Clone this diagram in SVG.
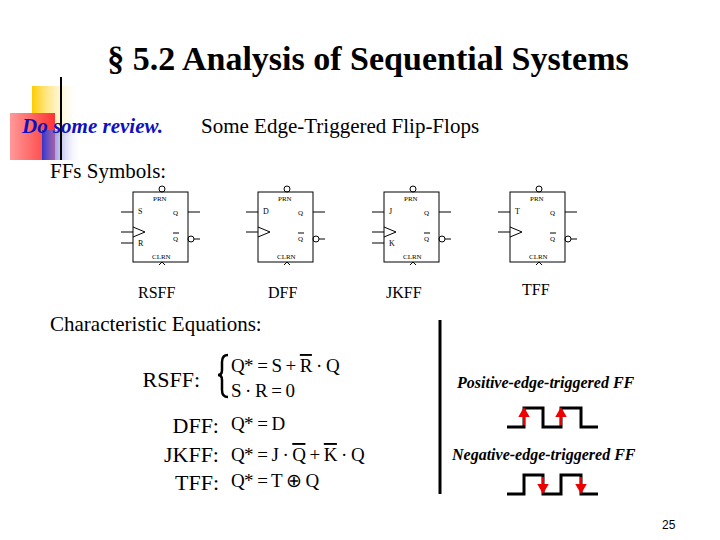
<svg xmlns="http://www.w3.org/2000/svg" width="720" height="540" viewBox="0 0 720 540">
<defs>
<linearGradient id="gy" x1="0" x2="1"><stop offset="0" stop-color="#ffcc00"/><stop offset="1" stop-color="#fff" stop-opacity="0"/></linearGradient>
<linearGradient id="gr" x1="0" x2="1"><stop offset="0" stop-color="#ff9999"/><stop offset="1" stop-color="#ff3333"/></linearGradient>
<linearGradient id="gb" x1="0" x2="1"><stop offset="0" stop-color="#3333cc"/><stop offset="1" stop-color="#fff" stop-opacity="0"/></linearGradient>
<linearGradient id="gl" x1="0" x2="1"><stop offset="0" stop-color="#333"/><stop offset="1" stop-color="#ccc"/></linearGradient>
<g id="ff" fill="none" stroke="#000" stroke-width="1">
<rect x="0" y="7" width="55" height="70" fill="#fff"/>
<circle cx="29" cy="4" r="3"/>
<path d="M0 42 L12 47 L0 52"/>
<line x1="-12" y1="47" x2="0" y2="47"/>
<line x1="55" y1="27" x2="67" y2="27"/>
<circle cx="58" cy="54" r="3"/>
<line x1="61" y1="54" x2="67" y2="54"/>
<line x1="40" y1="48" x2="46" y2="48"/>
<path d="M26 80 L29 77 L32 80"/>
<g stroke="none" fill="#000" font-family="Liberation Serif, serif" font-size="7"><text x="20" y="16">PRN</text><text x="19" y="74">CLRN</text><text x="40" y="30">Q</text><text x="40" y="56">Q</text></g>
</g>
</defs>
<style>.t{font-family:"Liberation Serif",serif;fill:#000}.s{font-size:8px;font-family:"Liberation Serif",serif}.o{text-decoration:overline}</style>
<rect width="720" height="540" fill="#fff"/>
<g id="deco">
<rect x="32" y="86" width="48" height="50" fill="url(#gy)"/>
<rect x="10" y="113" width="45" height="47" fill="url(#gr)"/>
<rect x="42" y="130" width="40" height="30" fill="url(#gb)"/>
<line x1="61" y1="77" x2="61" y2="160" stroke="#000" stroke-width="2"/>
<line x1="34" y1="141" x2="500" y2="141" stroke="url(#gl)" stroke-width="2"/>
</g>
<text class="t" x="368" y="70" font-size="34" font-weight="bold" text-anchor="middle">§ 5.2  Analysis of Sequential Systems</text>
<text class="t" x="22" y="133" font-size="21" font-style="italic" font-weight="bold" style="fill:#1010c0">Do some review.</text>
<text class="t" x="201" y="133" font-size="21">Some Edge-Triggered Flip-Flops</text>
<text class="t" x="50" y="178" font-size="21">FFs Symbols:</text>
<g id="rsff"><use href="#ff" x="133" y="185"/><line x1="121" y1="212" x2="133" y2="212" stroke="#000"/><line x1="121" y1="243" x2="133" y2="243" stroke="#000"/><text class="s" x="138" y="214">S</text><text class="s" x="138" y="246">R</text></g>
<g id="dff"><use href="#ff" x="258" y="185"/><line x1="246" y1="212" x2="258" y2="212" stroke="#000"/><text class="s" x="263" y="214">D</text></g>
<g id="jkff"><use href="#ff" x="384" y="185"/><line x1="372" y1="212" x2="384" y2="212" stroke="#000"/><line x1="372" y1="243" x2="384" y2="243" stroke="#000"/><text class="s" x="389" y="214">J</text><text class="s" x="389" y="246">K</text></g>
<g id="tff"><use href="#ff" x="510" y="185"/><line x1="498" y1="212" x2="510" y2="212" stroke="#000"/><text class="s" x="515" y="214">T</text></g>
<g class="t" font-size="16"><text x="138" y="298">RSFF</text><text x="268" y="298">DFF</text><text x="386" y="298">JKFF</text><text x="522" y="295">TFF</text></g>
<text class="t" x="50" y="331" font-size="21">Characteristic Equations:</text>
<g class="t" font-size="22" text-anchor="end"><text x="200" y="387">RSFF:</text><text x="219" y="433">DFF:</text><text x="219" y="462">JKFF:</text><text x="219" y="490">TFF:</text></g>
<path d="M228 355 Q222 355 222 362 L222 370 Q222 375 218 375 Q222 375 222 380 L222 390 Q222 397 228 397" fill="none" stroke="#000" stroke-width="2.5"/>
<g class="t" font-size="19" letter-spacing="-0.6">
<text x="231" y="372">Q* = S + <tspan class="o">R</tspan> · Q</text>
<text x="231" y="397">S · R = 0</text>
<text x="231" y="430">Q* = D</text>
<text x="231" y="461">Q* = J · <tspan class="o">Q</tspan> + <tspan class="o">K</tspan> · Q</text>
<text x="231" y="487">Q* = T ⊕ Q</text>
</g>
<line x1="440" y1="320" x2="440" y2="494" stroke="#000" stroke-width="3"/>
<g class="t" font-size="16" font-style="italic" font-weight="bold"><text x="457" y="388">Positive-edge-triggered FF</text><text x="452" y="460">Negative-edge-triggered FF</text></g>
<g id="wave" fill="none" stroke="#000" stroke-width="3">
<path d="M507 427 H524 V408 H543 V427 H561 V408 H581 V427 H598"/>
<path d="M507 494 H524 V475 H543 V494 H561 V475 H581 V494 H598"/>
</g>
<g stroke="#e00" stroke-width="2" fill="#e00">
<line x1="524" y1="425" x2="524" y2="414"/><path d="M520 416 L524 409 L528 416Z"/>
<line x1="561" y1="425" x2="561" y2="414"/><path d="M557 416 L561 409 L565 416Z"/>
<line x1="543" y1="477" x2="543" y2="487"/><path d="M539 485 L543 492 L547 485Z"/>
<line x1="581" y1="477" x2="581" y2="487"/><path d="M577 485 L581 492 L585 485Z"/>
</g>
<text x="662" y="529" font-family="Liberation Sans, sans-serif" font-size="12">25</text>
</svg>
